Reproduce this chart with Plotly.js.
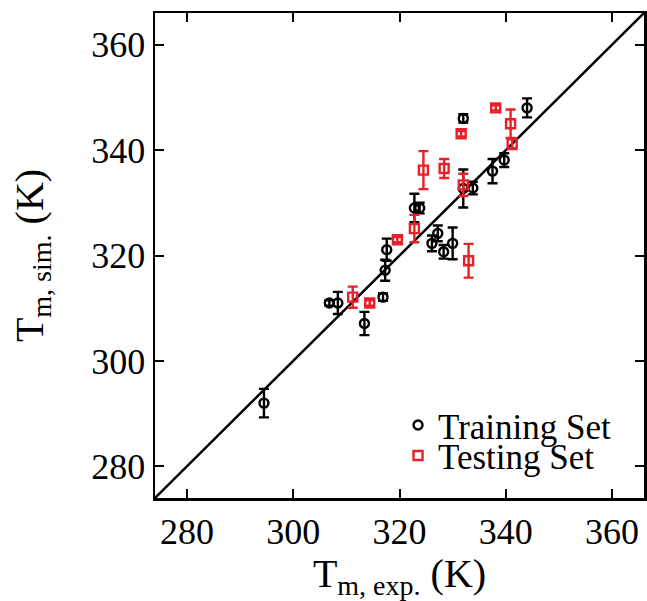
<!DOCTYPE html>
<html>
<head>
<meta charset="utf-8">
<script src="https://cdn.plot.ly/plotly-3.0.1.min.js"></script>
<style>
  html, body { margin: 0; padding: 0; background: #fff; }
  #chart { width: 647px; height: 601px; }
</style>
</head>
<body>
<div id="chart"></div>
<script>
// Training set: experimental vs simulated melting temperature (K), with error
const trainExp = [294.5, 306.8, 308.4, 313.4, 316.9, 317.3, 317.6, 322.8, 323.8, 326.1, 327.2, 328.3, 330.0, 332.0, 332.0, 333.8, 337.5, 339.7, 344.0];
const trainSim = [292.0, 311.0, 311.0, 307.1, 312.1, 317.2, 321.1, 329.0, 329.0, 322.3, 324.2, 320.7, 322.3, 346.0, 332.7, 332.8, 336.0, 338.1, 348.0];
const trainErr = [2.7, 0.5, 2.1, 2.2, 0.7, 2.0, 2.1, 2.7, 1.0, 1.5, 1.5, 1.3, 3.0, 0.8, 3.6, 1.2, 2.3, 1.3, 1.8];

// Testing set
const testExp = [311.2, 314.4, 319.6, 322.8, 324.5, 328.4, 331.6, 332.0, 333.0, 338.1, 340.9, 341.2];
const testSim = [312.1, 311.0, 323.0, 325.1, 336.2, 336.5, 343.1, 333.4, 319.0, 348.0, 345.0, 341.2];
const testErr = [2.0, 0.5, 0.5, 2.6, 3.6, 1.8, 0.5, 2.1, 3.2, 0.5, 2.7, 1.0];

// Parity line y = x across the axis range
const axisRange = [274, 366];
const tickVals = [280, 300, 320, 340, 360];

const serif = '"Liberation Serif", "Times New Roman", Times, serif';
const red = '#e8202a';

const traces = [
  {
    x: trainExp, y: trainSim, type: 'scatter', mode: 'markers', name: 'Training Set', legend: 'legend',
    marker: { symbol: 'circle-open', size: 9, color: '#000', line: { width: 2.4, color: '#000' } },
    error_y: { type: 'data', array: trainErr, visible: true, color: '#000', thickness: 2.4, width: 5 }
  },
  {
    x: testExp, y: testSim, type: 'scatter', mode: 'markers', name: 'Testing Set', legend: 'legend2',
    marker: { symbol: 'square-open', size: 9, color: red, line: { width: 2.4, color: red } },
    error_y: { type: 'data', array: testErr, visible: true, color: red, thickness: 2.4, width: 5 }
  }
];

const axisCommon = {
  range: axisRange,
  tickmode: 'array',
  tickvals: tickVals,
  ticks: 'inside',
  ticklen: 9,
  tickwidth: 2,
  tickcolor: '#000',
  showline: true,
  linewidth: 2.5,
  linecolor: '#000',
  mirror: 'ticks',
  showgrid: false,
  zeroline: false,
  tickfont: { family: serif, size: 36, color: '#000' }
};

const legendCommon = {
  xanchor: 'left', yanchor: 'middle',
  bgcolor: 'rgba(0,0,0,0)',
  font: { family: serif, size: 35, color: '#000' }
};

const layout = {
  width: 647,
  height: 601,
  margin: { l: 155, r: 3, t: 13, b: 103 },
  paper_bgcolor: '#fff',
  plot_bgcolor: '#fff',
  showlegend: true,
  legend: Object.assign({}, legendCommon, { x: 0.497, y: 0.15 }),
  legend2: Object.assign({}, legendCommon, { x: 0.497, y: 0.087 }),
  xaxis: Object.assign({}, axisCommon, {
    title: { text: 'T<sub>m, exp.</sub> (K)', font: { family: serif, size: 40, color: '#000' }, standoff: 8 }
  }),
  yaxis: Object.assign({}, axisCommon, {
    title: { text: 'T<sub>m, sim.</sub> (K)', font: { family: serif, size: 40, color: '#000' }, standoff: 36 }
  }),
  shapes: [
    { type: 'line', xref: 'x', yref: 'y', x0: axisRange[0], y0: axisRange[0], x1: axisRange[1], y1: axisRange[1],
      line: { color: '#000', width: 2.5 }, layer: 'below' }
  ]
};

Plotly.newPlot('chart', traces, layout, { displayModeBar: false, staticPlot: true });
</script>
</body>
</html>
